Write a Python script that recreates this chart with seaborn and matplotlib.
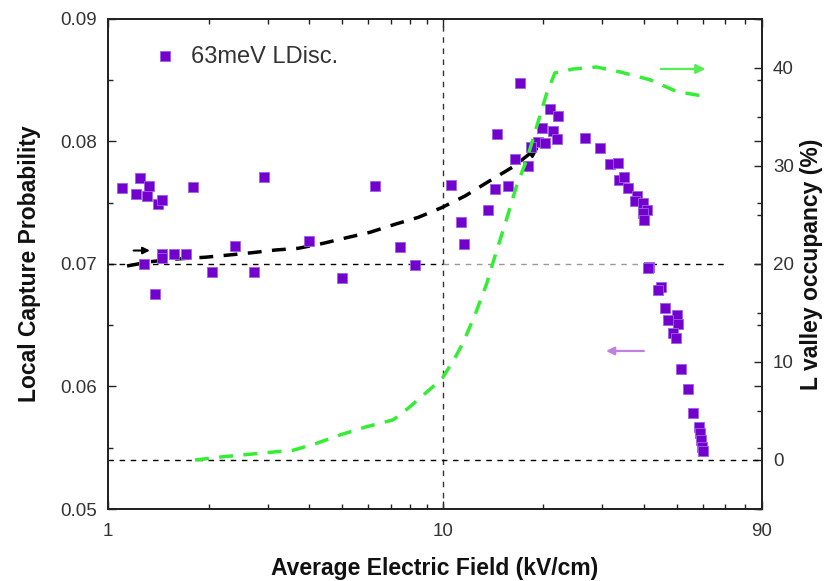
import matplotlib
matplotlib.use("Agg")
import matplotlib.pyplot as plt
import matplotlib.ticker as mticker
import seaborn as sns
import numpy as np

# ---- data ----
field_kv = [1.10, 1.25, 1.21, 1.33, 1.31, 1.41, 1.45, 1.80, 2.92,
            1.45, 1.45, 1.28, 1.58, 1.71, 2.39, 1.38, 2.05, 2.73,
            6.26, 4.00, 7.47, 8.27, 5.00, 10.59,
            16.99, 20.93, 22.06, 19.76, 21.32, 22.00, 14.56, 26.68, 29.51,
            19.30, 20.22, 18.32, 16.41, 17.98, 14.30, 15.67, 13.66, 11.34, 11.60,
            31.61, 33.47, 33.63, 34.74, 35.85, 38.06, 37.54, 39.67, 40.87,
            39.59, 40.03, 41.43, 41.06, 44.80, 44.07, 46.15, 50.03, 47.21,
            50.58, 48.67, 49.68, 51.42, 54.07, 55.84, 58.31, 58.72, 59.11,
            59.64, 59.81]
capture_prob = [0.07618, 0.07704, 0.07571, 0.07639, 0.07558, 0.07490, 0.07522, 0.07626, 0.07708,
                0.07079, 0.07049, 0.07002, 0.07079, 0.07079, 0.07147, 0.06755, 0.06932, 0.06932,
                0.07634, 0.07185, 0.07136, 0.06989, 0.06888, 0.07645,
                0.08480, 0.08268, 0.08208, 0.08108, 0.08086, 0.08018, 0.08059, 0.08029, 0.07944,
                0.07998, 0.07985, 0.07953, 0.07855, 0.07802, 0.07612, 0.07639, 0.07443, 0.07343, 0.07166,
                0.07814, 0.07827, 0.07686, 0.07708, 0.07623, 0.07558, 0.07514, 0.07496, 0.07441,
                0.07414, 0.07359, 0.06978, 0.06965, 0.06815, 0.06788, 0.06638, 0.06584, 0.06543,
                0.06510, 0.06434, 0.06393, 0.06145, 0.05982, 0.05784, 0.05672, 0.05618, 0.05563,
                0.05509, 0.05473]

trend_field = [1.14, 1.34, 1.60, 1.95, 2.29, 2.69, 3.16, 3.70, 4.40, 5.17, 6.07,
               7.20, 8.46, 9.93, 11.66, 13.69, 16.25, 19.13]
trend_prob = [0.06984, 0.07019, 0.07041, 0.07055, 0.07073, 0.07092, 0.07114, 0.07128,
              0.07169, 0.07215, 0.07259, 0.07324, 0.07381, 0.07460, 0.07555, 0.07672,
              0.07794, 0.07947]

lvalley_field = [1.82, 2.16, 2.98, 3.58, 4.20, 4.93, 5.93, 7.12, 7.90, 9.37, 10.0,
                 10.88, 11.52, 12.49, 13.54, 14.33, 15.53, 16.64, 17.82, 19.09, 20.45,
                 21.65, 24.56, 28.85, 33.86, 41.63, 50.03, 60.77]
lvalley_pct = [0.0, 0.3, 0.75, 1.0, 1.7, 2.55, 3.4, 4.1, 5.3, 7.5, 8.4,
               10.4, 12.0, 14.8, 18.0, 20.8, 24.6, 28.0, 30.6, 34.0, 37.4,
               39.5, 39.9, 40.1, 39.6, 38.8, 37.6, 37.1]

x_ticks = [1, 10, 90]
x_ticklabels = ["1", "10", "90"]
left_ticks = [0.05, 0.06, 0.07, 0.08, 0.09]
right_ticks = [0, 10, 20, 30, 40]

legend_label = "63meV LDisc."
xlabel = "Average Electric Field (kV/cm)"
ylabel_left = "Local Capture Probability"
ylabel_right = "L valley occupancy (%)"

# ---- figure ----
sns.set_theme(style="white")
plt.rcParams['font.family'] = ['Liberation Sans', 'DejaVu Sans']

fig = plt.figure(figsize=(8.28, 5.81), dpi=100)
ax = fig.add_axes([108/828, 1-509/581, (762-108)/828, (509-19)/581])
ax2 = ax.twinx()

purple = '#7300CC'
green = '#33EE33'

# reference lines
ax.axvline(10, color='#333333', lw=1.0, linestyle=(0, (4, 4)), zorder=1)
ax.plot([1, 10], [0.07, 0.07], color='black', lw=1.0, linestyle=(0, (4, 4)), zorder=1)
ax.plot([10, 42], [0.07, 0.07], color='#999999', lw=1.0, linestyle=(0, (4, 4)), zorder=1)
ax.plot([42, 71], [0.07, 0.07], color='black', lw=1.0, linestyle=(0, (4, 4)), zorder=1)
ax2.axhline(0, color='black', lw=1.0, linestyle=(0, (4, 4)), zorder=1)

sns.scatterplot(x=field_kv, y=capture_prob, ax=ax, marker='s', s=60,
                color=purple, edgecolor='#A060E8', linewidth=0.6,
                label=legend_label, zorder=4)

sns.lineplot(x=trend_field, y=trend_prob, ax=ax, color='black', lw=2.5,
             linestyle=(0, (4, 3)), zorder=3)
ax.annotate('', xy=(trend_field[-1] * 1.03, trend_prob[-1] + 0.0002),
            xytext=(trend_field[-2] * 1.1, trend_prob[-2] + 0.0009),
            arrowprops=dict(arrowstyle='-|>', color='black', lw=2.0,
                            mutation_scale=14))
# small arrow at start
ax.annotate('', xy=(1.36, 0.0711), xytext=(1.17, 0.0711),
            arrowprops=dict(arrowstyle='-|>', color='black', lw=1.5,
                            mutation_scale=10))
# purple arrow pointing left
ax.annotate('', xy=(30.2, 0.0629), xytext=(40.7, 0.0629),
            arrowprops=dict(arrowstyle='-|>', color='#C080E0', lw=1.6,
                            mutation_scale=12))

sns.lineplot(x=lvalley_field, y=lvalley_pct, ax=ax2, color=green, lw=2.5,
             linestyle=(0, (4, 3)), zorder=3)
ax2.annotate('', xy=(62.2, 39.9), xytext=(44.0, 39.9),
             arrowprops=dict(arrowstyle='-|>', color='#55EE55', lw=1.6,
                             mutation_scale=14))

# axes scaling
ax.set_xscale('log')
ax.set_xlim(1, 90)
ax.set_ylim(0.05, 0.09)
ax2.set_ylim(-5, 45)

ax.xaxis.set_major_locator(mticker.FixedLocator(x_ticks))
ax.xaxis.set_major_formatter(mticker.FixedFormatter(x_ticklabels))
ax.xaxis.set_minor_locator(mticker.LogLocator(base=10, subs=np.arange(2, 10), numticks=20))
ax.xaxis.set_minor_formatter(mticker.NullFormatter())

ax.set_yticks(left_ticks)
ax.set_yticklabels([f"{v:.2f}" for v in left_ticks])
ax.yaxis.set_minor_locator(mticker.MultipleLocator(0.005))
ax2.set_yticks(right_ticks)
ax2.set_yticklabels([str(v) for v in right_ticks])
ax2.yaxis.set_minor_locator(mticker.MultipleLocator(5))

for a in (ax, ax2):
    for sp in a.spines.values():
        sp.set_linewidth(1.3)
        sp.set_color('#222222')

ax.tick_params(axis='both', which='both', direction='in', top=True, right=True,
               left=True, bottom=True, colors='#222222', labelcolor='#333333',
               labelsize=13.5)
ax.tick_params(which='major', length=6, width=1.0)
ax.tick_params(which='minor', length=3.5, width=1.0)
ax.tick_params(axis='x', pad=10)
ax.tick_params(axis='y', pad=8)
ax2.tick_params(axis='y', which='both', direction='in', right=True,
                colors='#222222', labelcolor='#333333', labelsize=13.5)
ax2.tick_params(which='major', length=6, width=1.0, pad=8)
ax2.tick_params(which='minor', length=3.5, width=1.0)

ax.set_xlabel(xlabel, fontsize=16.5, fontweight='bold', labelpad=12, color='#111111')
ax.set_ylabel(ylabel_left, fontsize=16.5, fontweight='bold', labelpad=14, color='#111111')
ax2.set_ylabel(ylabel_right, fontsize=16.5, fontweight='bold', labelpad=4, color='#111111')
ax2.grid(False)
ax.grid(False)

leg = ax.legend(loc='upper left', bbox_to_anchor=(0.036, 0.965), frameon=False,
                fontsize=17, handletextpad=0.1, markerscale=1.0, borderaxespad=0)
for t in leg.get_texts():
    t.set_color('#333333')

fig.savefig('out.png', dpi=100)
